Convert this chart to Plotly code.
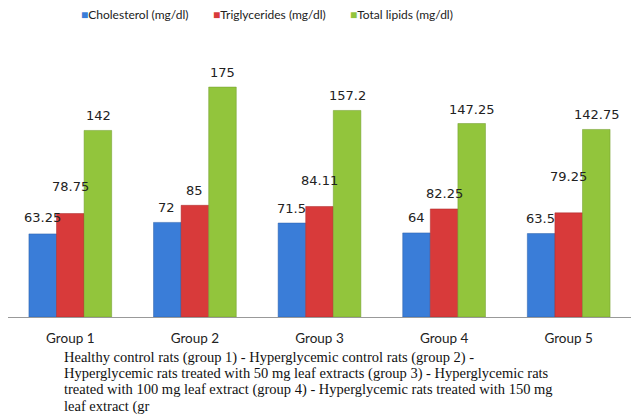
import plotly.graph_objects as go

groups = ["Group 1", "Group 2", "Group 3", "Group 4", "Group 5"]
cholesterol = [63.25, 72, 71.5, 64, 63.5]
triglycerides = [78.75, 85, 84.11, 82.25, 79.25]
total_lipids = [142, 175, 157.2, 147.25, 142.75]
series_names = ["Cholesterol (mg/dl)", "Triglycerides (mg/dl)", "Total lipids (mg/dl)"]
footnote_lines = [
    "Healthy control rats (group 1) - Hyperglycemic control rats (group 2) -",
    "Hyperglycemic rats treated with 50 mg leaf extracts (group 3) - Hyperglycemic rats",
    "treated with 100 mg leaf extract (group 4) - Hyperglycemic rats treated with 150 mg",
    "leaf extract (gr",
]

colors = ["#3a7dd8", "#d83a3a", "#92c53c"]
line_colors = ["#2a5fa8", "#a82a2a", "#6e9a2a"]
# vertical pixel offset of each data label above its bar (styling only)
label_shift = [
    [16, 15, 15, 15, 15],
    [27, 15, 26, 15, 36],
    [15, 15, 15, 14, 15],
]
xshifts = [-28, 0, 28]

# plot area geometry in pixels (styling)
L, T, B, W, H = 8, 60, 100, 631, 417
PW, PH = W - L, H - T - B


def px_x(X):
    return (X - L) / PW


def px_y(Y):
    return (H - B - Y) / PH


fig = go.Figure()
all_series = [cholesterol, triglycerides, total_lipids]
for name, vals, c, lc in zip(series_names, all_series, colors, line_colors):
    fig.add_trace(go.Bar(x=groups, y=vals, name=name, showlegend=False,
                         marker=dict(color=c, line=dict(color=lc, width=0.5))))

annotations = []
for si, vals in enumerate(all_series):
    for gi, v in enumerate(vals):
        annotations.append(dict(x=groups[gi], y=v, xref="x", yref="y",
                                text=f"{v:g}", showarrow=False,
                                xshift=xshifts[si], yshift=label_shift[si][gi],
                                yanchor="middle",
                                font=dict(family="DejaVu Sans", size=13, color="#222")))

# legend (drawn as text so that the swatches sit close to the labels)
legend_x = [79, 211, 348]
for name, c, lx in zip(series_names, colors, legend_x):
    annotations.append(dict(x=px_x(lx), y=px_y(15), xref="paper", yref="paper",
                            xanchor="left", yanchor="middle", showarrow=False,
                            text=f"<span style='color:{c}'>■</span>{name}",
                            font=dict(family="Lato", size=12, color="#222")))

line_y = [357, 373.5, 390, 406.5]
for txt, ly in zip(footnote_lines, line_y):
    annotations.append(dict(x=px_x(62), y=px_y(ly), xref="paper", yref="paper",
                            xanchor="left", yanchor="middle", showarrow=False,
                            text=txt, align="left",
                            font=dict(family="Liberation Serif", size=14.5, color="#111")))

fig.update_layout(
    width=W, height=H,
    margin=dict(l=L, r=0, t=T, b=B),
    paper_bgcolor="white", plot_bgcolor="white",
    barmode="group", bargap=0.336, bargroupgap=0,
    font=dict(family="Lato", size=11, color="#222"),
    annotations=annotations,
    showlegend=False,
    xaxis=dict(showline=True, linecolor="#999", linewidth=1, ticks="",
               ticklabelstandoff=9,
               tickfont=dict(family="Lato", size=13.5, color="#222"), showgrid=False),
    yaxis=dict(range=[0, 195.6], visible=False, showgrid=False, zeroline=False),
)
fig.write_html("out.html", config={"displayModeBar": False},
               post_script="document.body.style.margin='0px';")
